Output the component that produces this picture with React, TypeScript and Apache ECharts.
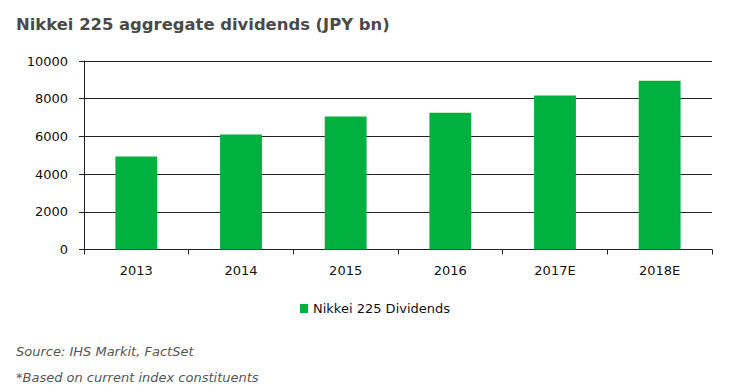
import React, { useEffect, useRef } from "react";
import * as echarts from "echarts";

const categories = ["2013", "2014", "2015", "2016", "2017E", "2018E"];
const dividends = [4930, 6100, 7050, 7260, 8170, 8950];
const yTicks = { min: 0, max: 10000, interval: 2000 };
const seriesName = "Nikkei 225 Dividends";
const titleText = "Nikkei 225 aggregate dividends (JPY bn)";
const sourceText = "Source: IHS Markit, FactSet";
const noteText = "*Based on current index constituents";

const FONT = "'DejaVu Sans', Verdana, sans-serif";

export default function App() {
  const ref = useRef<HTMLDivElement>(null);
  useEffect(() => {
    if (!ref.current) return;
    const chart = echarts.init(ref.current, undefined, { renderer: "svg" });
    chart.setOption({
      animation: false,
      backgroundColor: "#ffffff",
      textStyle: { fontFamily: FONT },
      title: {
        text: titleText,
        left: 3,
        top: 3,
        textStyle: { fontFamily: FONT, fontSize: 16.4, fontWeight: "bold", color: "#4a4a4a" },
      },
      legend: {
        data: [seriesName],
        left: 287,
        top: 289,
        itemWidth: 8,
        itemHeight: 9,
        icon: "rect",
        textStyle: { fontFamily: FONT, fontSize: 13, color: "#111" },
      },
      grid: { left: 76, right: 24, top: 53, bottom: 134.5, containLabel: false },
      xAxis: {
        type: "category",
        data: categories,
        axisLine: { lineStyle: { color: "#222", width: 1 } },
        axisTick: { show: true, length: 5, lineStyle: { color: "#222" } },
        axisLabel: { fontFamily: FONT, fontSize: 13, color: "#111", margin: 14 },
      },
      yAxis: {
        type: "value",
        min: yTicks.min,
        max: yTicks.max,
        interval: yTicks.interval,
        axisLine: { show: true, lineStyle: { color: "#222", width: 1 } },
        axisTick: { show: true, length: 5, lineStyle: { color: "#222" } },
        axisLabel: {
          fontFamily: FONT,
          fontSize: 13,
          color: "#111",
          margin: 16,
          formatter: (v: number) => String(v),
        },
        splitLine: { show: true, lineStyle: { color: "#222", width: 1 } },
      },
      series: [
        {
          name: seriesName,
          type: "bar",
          data: dividends,
          barWidth: "40%",
          itemStyle: { color: "#00b140" },
        },
      ],
      graphic: [
        {
          type: "text",
          left: 8,
          top: 337,
          style: { text: sourceText, font: `italic 13px ${FONT}`, fill: "#555" },
        },
        {
          type: "text",
          left: 8,
          top: 363,
          style: { text: noteText, font: `italic 13px ${FONT}`, fill: "#555" },
        },
      ],
    });
    return () => chart.dispose();
  }, []);
  return <div ref={ref} style={{ width: 728, height: 376 }} />;
}
